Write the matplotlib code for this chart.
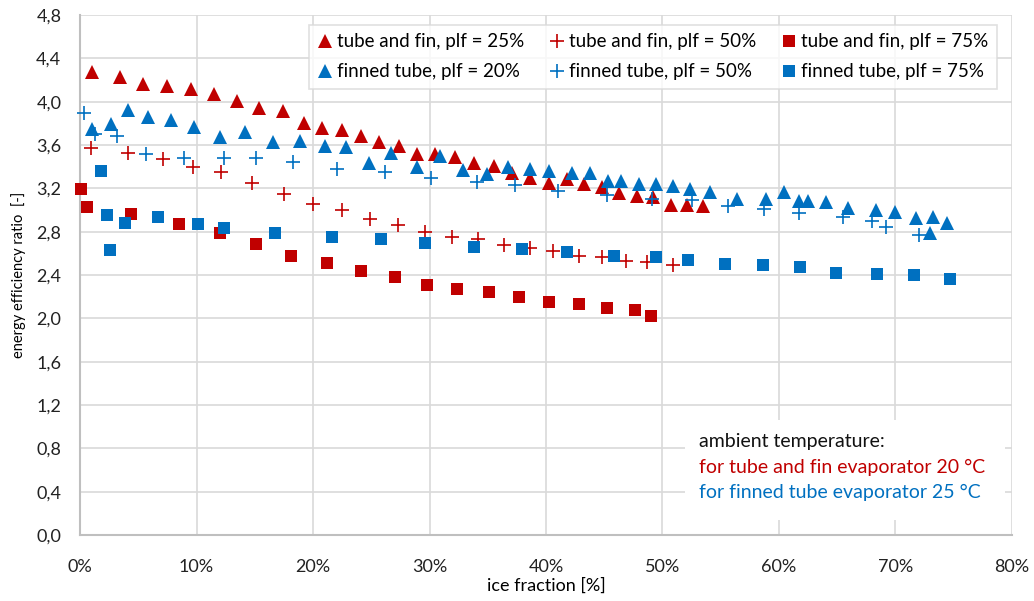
import matplotlib.pyplot as plt
from matplotlib.patches import Rectangle
from matplotlib.ticker import FuncFormatter, MultipleLocator

plt.rcParams['font.family'] = ['Lato', 'DejaVu Sans']

RED = '#C00000'
BLUE = '#0070C0'

# tube and fin, plf = 25%
tf25_x = [1.06, 3.43, 5.43, 7.5, 9.53, 11.53, 13.5, 15.4, 17.4, 19.2, 20.8, 22.5, 24.1,
          25.7, 27.4, 28.9, 30.5, 32.2, 33.8, 35.5, 37.1, 38.6, 40.3, 41.8, 43.3, 44.8,
          46.3, 47.8, 49.2, 50.7, 52.1, 53.5]
tf25_y = [4.27, 4.225, 4.16, 4.147, 4.12, 4.07, 4.01, 3.94, 3.91, 3.80, 3.756, 3.735, 3.68,
          3.63, 3.59, 3.52, 3.52, 3.49, 3.435, 3.41, 3.34, 3.30, 3.25, 3.29, 3.24, 3.21,
          3.16, 3.13, 3.12, 3.05, 3.05, 3.035]

# tube and fin, plf = 50%
tf50_x = [0.9, 4.1, 7.1, 9.7, 12.1, 14.8, 17.5, 20.0, 22.5, 24.9, 27.3, 29.6, 31.9, 34.2,
          36.4, 38.6, 40.6, 42.8, 44.8, 46.9, 48.7, 50.9]
tf50_y = [3.57, 3.53, 3.475, 3.40, 3.35, 3.25, 3.15, 3.06, 3.00, 2.92, 2.865, 2.80, 2.75,
          2.735, 2.68, 2.65, 2.62, 2.575, 2.565, 2.53, 2.52, 2.49]

# tube and fin, plf = 75%
tf75_x = [0.06, 0.57, 4.4, 8.5, 12.0, 15.1, 18.1, 21.2, 24.1, 27.0, 29.8, 32.4, 35.1,
          37.7, 40.3, 42.8, 45.2, 47.6, 49.0]
tf75_y = [3.19, 3.03, 2.96, 2.87, 2.79, 2.69, 2.58, 2.51, 2.44, 2.38, 2.31, 2.27, 2.24,
          2.195, 2.15, 2.13, 2.095, 2.08, 2.02]

# finned tube, plf = 20%
ft20_x = [1.0, 2.66, 4.15, 5.86, 7.8, 9.8, 12.0, 14.2, 16.6, 18.9, 21.0, 22.8, 24.8, 26.7,
          28.9, 30.9, 32.9, 34.9, 36.7, 38.6, 40.3, 42.2, 43.8, 45.3, 46.4, 48.0, 49.4,
          50.9, 52.4, 54.1, 56.4, 58.9, 60.4, 61.7, 62.5, 64.0, 65.9, 68.3, 70.0, 71.8,
          73.2, 73.0, 74.4]
ft20_y = [3.75, 3.79, 3.92, 3.86, 3.83, 3.77, 3.675, 3.72, 3.63, 3.64, 3.59, 3.58, 3.43,
          3.53, 3.40, 3.50, 3.37, 3.33, 3.40, 3.376, 3.36, 3.34, 3.346, 3.27, 3.265, 3.24,
          3.24, 3.22, 3.19, 3.17, 3.10, 3.105, 3.17, 3.08, 3.08, 3.07, 3.02, 3.00, 2.98,
          2.93, 2.94, 2.79, 2.88]

# finned tube, plf = 50%
ft50_x = [0.34, 1.3, 3.15, 5.7, 8.9, 12.4, 15.1, 18.3, 22.1, 26.2, 30.1, 34.1, 37.3, 41.0,
          45.2, 49.1, 52.5, 55.6, 58.7, 61.7, 65.5, 68.0, 69.2, 72.0]
ft50_y = [3.90, 3.70, 3.685, 3.52, 3.48, 3.48, 3.48, 3.44, 3.38, 3.35, 3.30, 3.26, 3.23,
          3.18, 3.14, 3.10, 3.09, 3.04, 3.01, 2.97, 2.935, 2.895, 2.84, 2.765]

# finned tube, plf = 75%
ft75_x = [1.8, 2.3, 2.6, 3.9, 6.7, 10.1, 12.4, 16.7, 21.6, 25.8, 29.6, 33.8, 37.9, 41.8,
          45.8, 49.4, 52.2, 55.4, 58.6, 61.8, 64.9, 68.4, 71.6, 74.7]
ft75_y = [3.36, 2.95, 2.63, 2.88, 2.935, 2.87, 2.83, 2.79, 2.75, 2.735, 2.695, 2.66, 2.64,
          2.61, 2.575, 2.565, 2.535, 2.50, 2.49, 2.47, 2.42, 2.41, 2.40, 2.36]

fig = plt.figure(figsize=(10.34, 6.01), dpi=100)
ax = fig.add_axes([0.0774, 0.1098, 0.9013, 0.8652])

kw = dict(linestyle='none', clip_on=False, zorder=3)
h1, = ax.plot(tf25_x, tf25_y, '^', color=RED, ms=10, mew=0, label='tube and fin, plf = 25%', **kw)
h2, = ax.plot(tf50_x, tf50_y, '+', color=RED, ms=10, mew=1.2, label='tube and fin, plf = 50%', **kw)
h3, = ax.plot(tf75_x, tf75_y, 's', color=RED, ms=9, mew=0, label='tube and fin, plf = 75%', **kw)
h4, = ax.plot(ft20_x, ft20_y, '^', color=BLUE, ms=10, mew=0, label='finned tube, plf = 20%', **kw)
h5, = ax.plot(ft50_x, ft50_y, '+', color=BLUE, ms=10, mew=1.2, label='finned tube, plf = 50%', **kw)
h6, = ax.plot(ft75_x, ft75_y, 's', color=BLUE, ms=9, mew=0, label='finned tube, plf = 75%', **kw)

ax.set_xlim(0, 80)
ax.set_ylim(0, 4.8)
ax.xaxis.set_major_locator(MultipleLocator(10))
ax.yaxis.set_major_locator(MultipleLocator(0.4))
ax.xaxis.set_major_formatter(FuncFormatter(lambda v, p: '{:.0f}%'.format(v)))
ax.yaxis.set_major_formatter(FuncFormatter(lambda v, p: '{:.1f}'.format(v).replace('.', ',')))
ax.tick_params(length=0, labelsize=13, colors='#222222')
ax.tick_params(axis='x', pad=17)
ax.tick_params(axis='y', pad=13.5)
ax.grid(True, color='#D9D9D9', lw=1.2)
ax.set_axisbelow(True)
for s in ['top', 'right']:
    ax.spines[s].set_visible(False)
for s in ['left', 'bottom']:
    ax.spines[s].set_color('#BFBFBF')
    ax.spines[s].set_linewidth(1.5)

ax.set_xlabel('ice fraction [%]', fontsize=13, labelpad=2)
ax.set_ylabel('energy efficiency ratio  [-]', fontsize=10.5, labelpad=7)

leg = ax.legend(handles=[h1, h4, h2, h5, h3, h6], ncol=3, loc='upper right',
                bbox_to_anchor=(0.984, 0.981), fontsize=13.5, frameon=True, fancybox=False,
                handlelength=0.8, handletextpad=0.25, columnspacing=1.35, borderpad=0.45,
                labelspacing=0.7, borderaxespad=0)
leg.get_frame().set_edgecolor('#D9D9D9')
leg.get_frame().set_linewidth(1.2)

# white box behind the note, hiding the gridlines
ax.add_patch(Rectangle((0.649, 0.0288), 0.3435, 0.1922, transform=ax.transAxes,
                       facecolor='white', edgecolor='none', zorder=1))
ax.text(0.664, 0.179, 'ambient temperature:', transform=ax.transAxes, fontsize=14,
        color='#111111', va='center', zorder=4)
ax.text(0.664, 0.129, 'for tube and fin evaporator 20 °C', transform=ax.transAxes,
        fontsize=14, color=RED, va='center', zorder=4)
ax.text(0.664, 0.081, 'for finned tube evaporator 25 °C', transform=ax.transAxes,
        fontsize=14, color=BLUE, va='center', zorder=4)

fig.savefig('out.png', dpi=100)
